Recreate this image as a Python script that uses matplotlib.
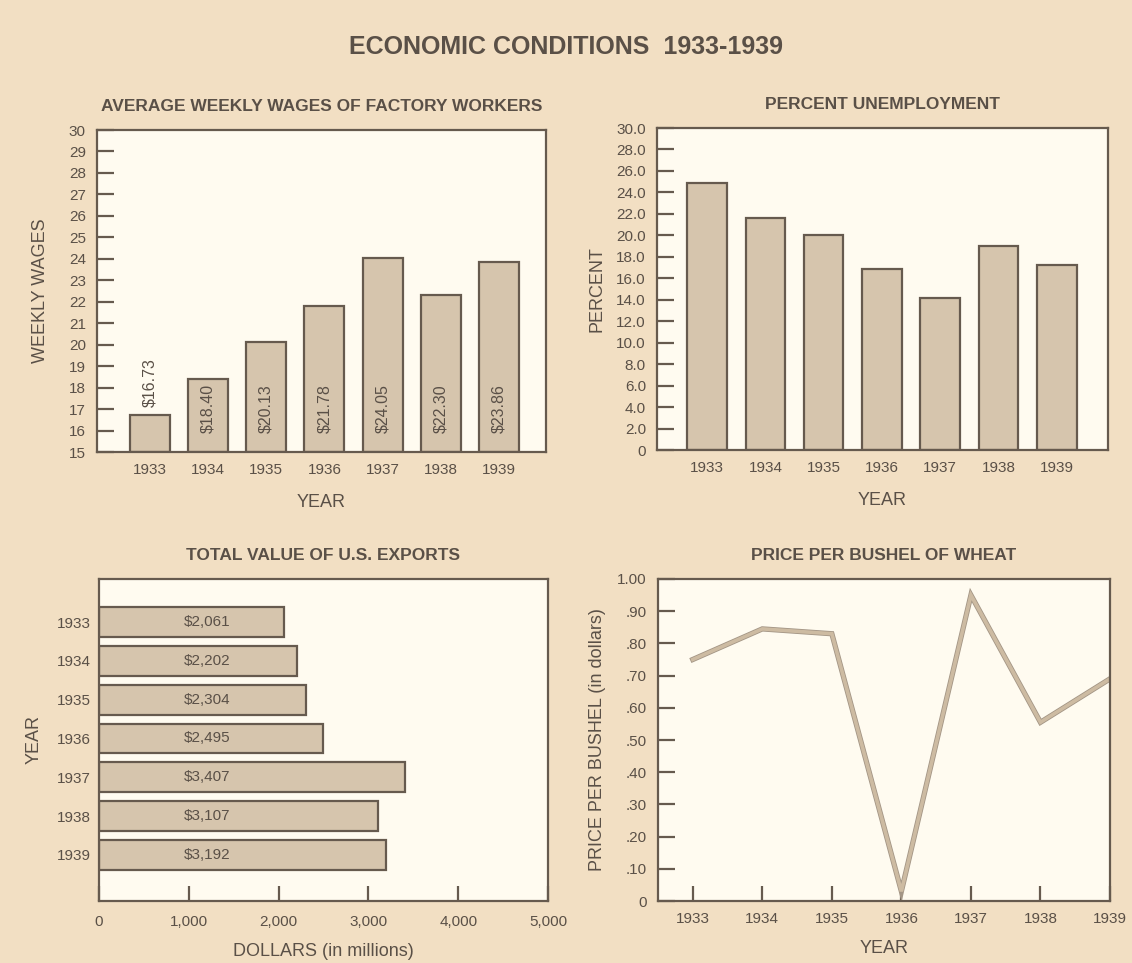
import matplotlib
matplotlib.use("Agg")
import matplotlib.pyplot as plt
import matplotlib.patheffects as pe

plt.rcParams['font.family'] = ['Liberation Sans', 'DejaVu Sans']

years = ["1933", "1934", "1935", "1936", "1937", "1938", "1939"]
year_nums = [1933, 1934, 1935, 1936, 1937, 1938, 1939]
wages = [16.73, 18.40, 20.13, 21.78, 24.05, 22.30, 23.86]
wage_labels = ["$16.73", "$18.40", "$20.13", "$21.78", "$24.05", "$22.30", "$23.86"]
unemployment = [24.9, 21.6, 20.0, 16.9, 14.2, 19.0, 17.2]
exports = [2061, 2202, 2304, 2495, 3407, 3107, 3192]
export_labels = ["$2,061", "$2,202", "$2,304", "$2,495", "$3,407", "$3,107", "$3,192"]
wheat = [0.75, 0.845, 0.83, 0.03, 0.95, 0.555, 0.69]

BG = '#f2dfc3'
FACE = '#fffbf0'
BAR = '#d6c5ad'
EDGE = '#665a4e'
TXT = '#5a5047'
LINE = '#cdbba2'

W, H = 1132, 963
fig = plt.figure(figsize=(W / 100, H / 100), dpi=100, facecolor=BG)


def add_ax(x0, y0, x1, y1):
    return fig.add_axes([x0 / W, 1 - y1 / H, (x1 - x0) / W, (y1 - y0) / H])


def style(ax):
    ax.set_facecolor(FACE)
    for s in ax.spines.values():
        s.set_color(EDGE)
        s.set_linewidth(1.6)
    ax.tick_params(colors=EDGE, labelcolor=TXT, labelsize=11, width=1.6)


fig.text(0.5, 1 - 47 / H, "ECONOMIC CONDITIONS  1933-1939", ha='center', va='center',
         fontsize=18, fontweight='bold', color=TXT)

TITLE_FS = 12.5
LAB_FS = 13

# --- Top left: weekly wages
ax1 = add_ax(97, 130, 546, 452)
style(ax1)
x = list(range(len(years)))
ax1.bar(x, [w - 15 for w in wages], bottom=15, width=0.69, color=BAR, edgecolor=EDGE, linewidth=1.6)
ax1.set_ylim(15, 30)
ax1.set_xlim(-0.91, 6.81)
ax1.set_yticks(range(15, 31))
ax1.tick_params(axis='y', direction='in', length=12, pad=8)
ax1.set_xticks(x)
ax1.set_xticklabels(years)
ax1.tick_params(axis='x', length=0, pad=8)
for i, (v, lab) in enumerate(zip(wages, wage_labels)):
    if v - 15 < 2.5:
        ax1.text(i, v + 0.35, lab, rotation=90, ha='center', va='bottom', fontsize=11.5, color=TXT)
    else:
        ax1.text(i, 15.88, lab, rotation=90, ha='center', va='bottom', fontsize=11.5, color=TXT)
ax1.set_title("AVERAGE WEEKLY WAGES OF FACTORY WORKERS", fontsize=TITLE_FS, fontweight='bold',
              color=TXT, pad=14)
ax1.set_xlabel("YEAR", fontsize=LAB_FS, color=TXT, labelpad=12)
ax1.set_ylabel("WEEKLY WAGES", fontsize=LAB_FS, color=TXT, labelpad=14)

# --- Top right: unemployment
ax2 = add_ax(657, 128, 1108, 450)
style(ax2)
ax2.bar(x, unemployment, width=0.68, color=BAR, edgecolor=EDGE, linewidth=1.6)
ax2.set_ylim(0, 30)
ax2.set_xlim(-0.86, 6.88)
yt = list(range(0, 31, 2))
ax2.set_yticks(yt)
ax2.set_yticklabels(["0"] + [f"{v:.1f}" for v in yt[1:]])
ax2.tick_params(axis='y', direction='in', length=12, pad=8)
ax2.set_xticks(x)
ax2.set_xticklabels(years)
ax2.tick_params(axis='x', length=0, pad=8)
ax2.set_title("PERCENT UNEMPLOYMENT", fontsize=TITLE_FS, fontweight='bold', color=TXT, pad=14)
ax2.set_xlabel("YEAR", fontsize=LAB_FS, color=TXT, labelpad=12)
ax2.set_ylabel("PERCENT", fontsize=LAB_FS, color=TXT, labelpad=8)

# --- Bottom left: exports
ax3 = add_ax(99, 579, 548, 901)
style(ax3)
ax3.barh(x, exports, height=0.77, color=BAR, edgecolor=EDGE, linewidth=1.6)
ax3.set_xlim(0, 5000)
ax3.set_ylim(7.19, -1.11)
ax3.set_yticks(x)
ax3.set_yticklabels(years)
ax3.tick_params(axis='y', length=0, pad=6)
ax3.set_xticks(range(0, 5001, 1000))
ax3.set_xticklabels(["0", "1,000", "2,000", "3,000", "4,000", "5,000"])
ax3.tick_params(axis='x', direction='in', length=11, pad=10)
for i, lab in enumerate(export_labels):
    ax3.text(1200, i, lab, ha='center', va='center', fontsize=11, color=TXT)
ax3.set_title("TOTAL VALUE OF U.S. EXPORTS", fontsize=TITLE_FS, fontweight='bold', color=TXT, pad=14)
ax3.set_xlabel("DOLLARS (in millions)", fontsize=LAB_FS, color=TXT, labelpad=10)
ax3.set_ylabel("YEAR", fontsize=LAB_FS, color=TXT, labelpad=10)

# --- Bottom right: wheat
ax4 = add_ax(658, 579, 1110, 901)
style(ax4)
ax4.plot(year_nums, wheat, color=LINE, linewidth=2.6, solid_joinstyle='miter',
         path_effects=[pe.Stroke(linewidth=3.8, foreground='#a39585'), pe.Normal()])
ax4.set_xlim(1932.5, 1939)
ax4.set_ylim(0, 1.0)
wt = [i / 10 for i in range(11)]
ax4.set_yticks(wt)
ax4.set_yticklabels(["0"] + [f".{i}0" for i in range(1, 10)] + ["1.00"])
ax4.tick_params(axis='y', direction='in', length=12, pad=8)
ax4.set_xticks(year_nums)
ax4.set_xticklabels(years)
ax4.tick_params(axis='x', direction='in', length=11, pad=8)
ax4.set_title("PRICE PER BUSHEL OF WHEAT", fontsize=TITLE_FS, fontweight='bold', color=TXT, pad=14)
ax4.set_xlabel("YEAR", fontsize=LAB_FS, color=TXT, labelpad=10)
ax4.set_ylabel("PRICE PER BUSHEL (in dollars)", fontsize=LAB_FS, color=TXT, labelpad=8)

fig.savefig("out.png", dpi=100, facecolor=BG)
